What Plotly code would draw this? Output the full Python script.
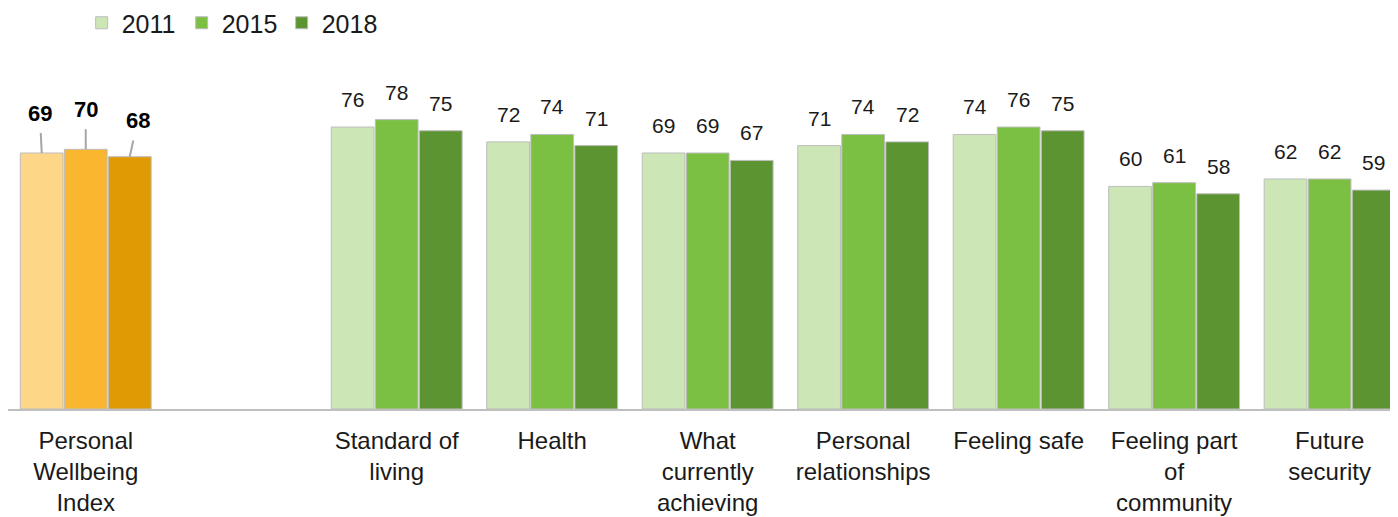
import plotly.graph_objects as go

years = ["2011", "2015", "2018"]
index_category = "Personal Wellbeing Index"
index_label = "Personal<br>Wellbeing<br>Index"
index_values = [69, 70, 68]

domains = [" ", "Standard of living", "Health", "What currently achieving",
           "Personal relationships", "Feeling safe", "Feeling part of community",
           "Future security"]
domain_labels = ["", "Standard of<br>living", "Health", "What<br>currently<br>achieving",
                 "Personal<br>relationships", "Feeling safe", "Feeling part<br>of<br>community",
                 "Future<br>security"]
values_2011 = [None, 76, 72, 69, 71, 74, 60, 62]
values_2015 = [None, 78, 74, 69, 74, 76, 61, 62]
values_2018 = [None, 75, 71, 67, 72, 75, 58, 59]
domain_values = [values_2011, values_2015, values_2018]

green_colors = ["#CCE6B6", "#7CC043", "#5C9431"]
orange_colors = ["#FED688", "#FBB62F", "#E09A03"]
# leader-line label offsets (px) for the index labels
index_label_dx = [-2, 0, 8]
index_label_dy = [-40, -40, -36]

categories = [index_category] + domains
tick_labels = [index_label] + domain_labels

FONT = "Liberation Sans, Arial, sans-serif"
slot_px = 44

fig = go.Figure()
for j, yr in enumerate(years):
    fig.add_trace(go.Bar(
        x=domains, y=domain_values[j], name=yr, offsetgroup=yr,
        marker=dict(color=green_colors[j], line=dict(color="#BDBDBD", width=1)),
        showlegend=True, hoverinfo="x+y+name"))
    fig.add_trace(go.Bar(
        x=[index_category], y=[index_values[j]], name=yr, offsetgroup=yr,
        marker=dict(color=orange_colors[j], line=dict(color="#BDBDBD", width=1)),
        showlegend=False, hoverinfo="x+y+name"))

annotations = []
for j in range(3):
    shift = (j - 1) * slot_px
    annotations.append(dict(
        x=index_category, y=index_values[j], xref="x", yref="y",
        text=f"<b>{index_values[j]}</b>", showarrow=True, arrowhead=0,
        arrowwidth=2, arrowcolor="#A6A6A6", ax=index_label_dx[j], ay=index_label_dy[j],
        startstandoff=6, xshift=shift,
        font=dict(family=FONT, size=22, color="#000000")))
    for cat, v in zip(domains, domain_values[j]):
        if v is None:
            continue
        annotations.append(dict(
            x=cat, y=v, xref="x", yref="y", text=str(v), showarrow=False,
            xshift=shift, yshift=14, yanchor="bottom",
            font=dict(family=FONT, size=21, color="#1A1A1A")))

# The page body has an 8px margin; the figure is sized to fit the window.
fig.update_layout(
    width=1390, height=509,
    margin=dict(l=0, r=0, t=30, b=108, autoexpand=False),
    paper_bgcolor="white", plot_bgcolor="white",
    barmode="group", bargap=0.15, bargroupgap=0.03,
    font=dict(family=FONT, size=24, color="#1A1A1A"),
    legend=dict(orientation="h", x=0.053, xanchor="left", y=1.0404, yanchor="middle",
                font=dict(family=FONT, size=25, color="#1A1A1A"),
                entrywidth=55, traceorder="normal"),
    annotations=annotations,
    xaxis=dict(categoryorder="array", categoryarray=categories,
               tickmode="array", tickvals=categories, ticktext=tick_labels,
               range=[-0.5, 8.44], showline=True, linecolor="#BFBFBF", linewidth=2,
               ticks="outside", ticklen=9, tickcolor="rgba(0,0,0,0)",
               tickfont=dict(family=FONT, size=24, color="#1A1A1A"),
               automargin=False,
               showgrid=False, zeroline=False, fixedrange=True),
    yaxis=dict(range=[0, 100], visible=False, showgrid=False, zeroline=False,
               automargin=False, fixedrange=True),
)

fig.write_html("out.html")
